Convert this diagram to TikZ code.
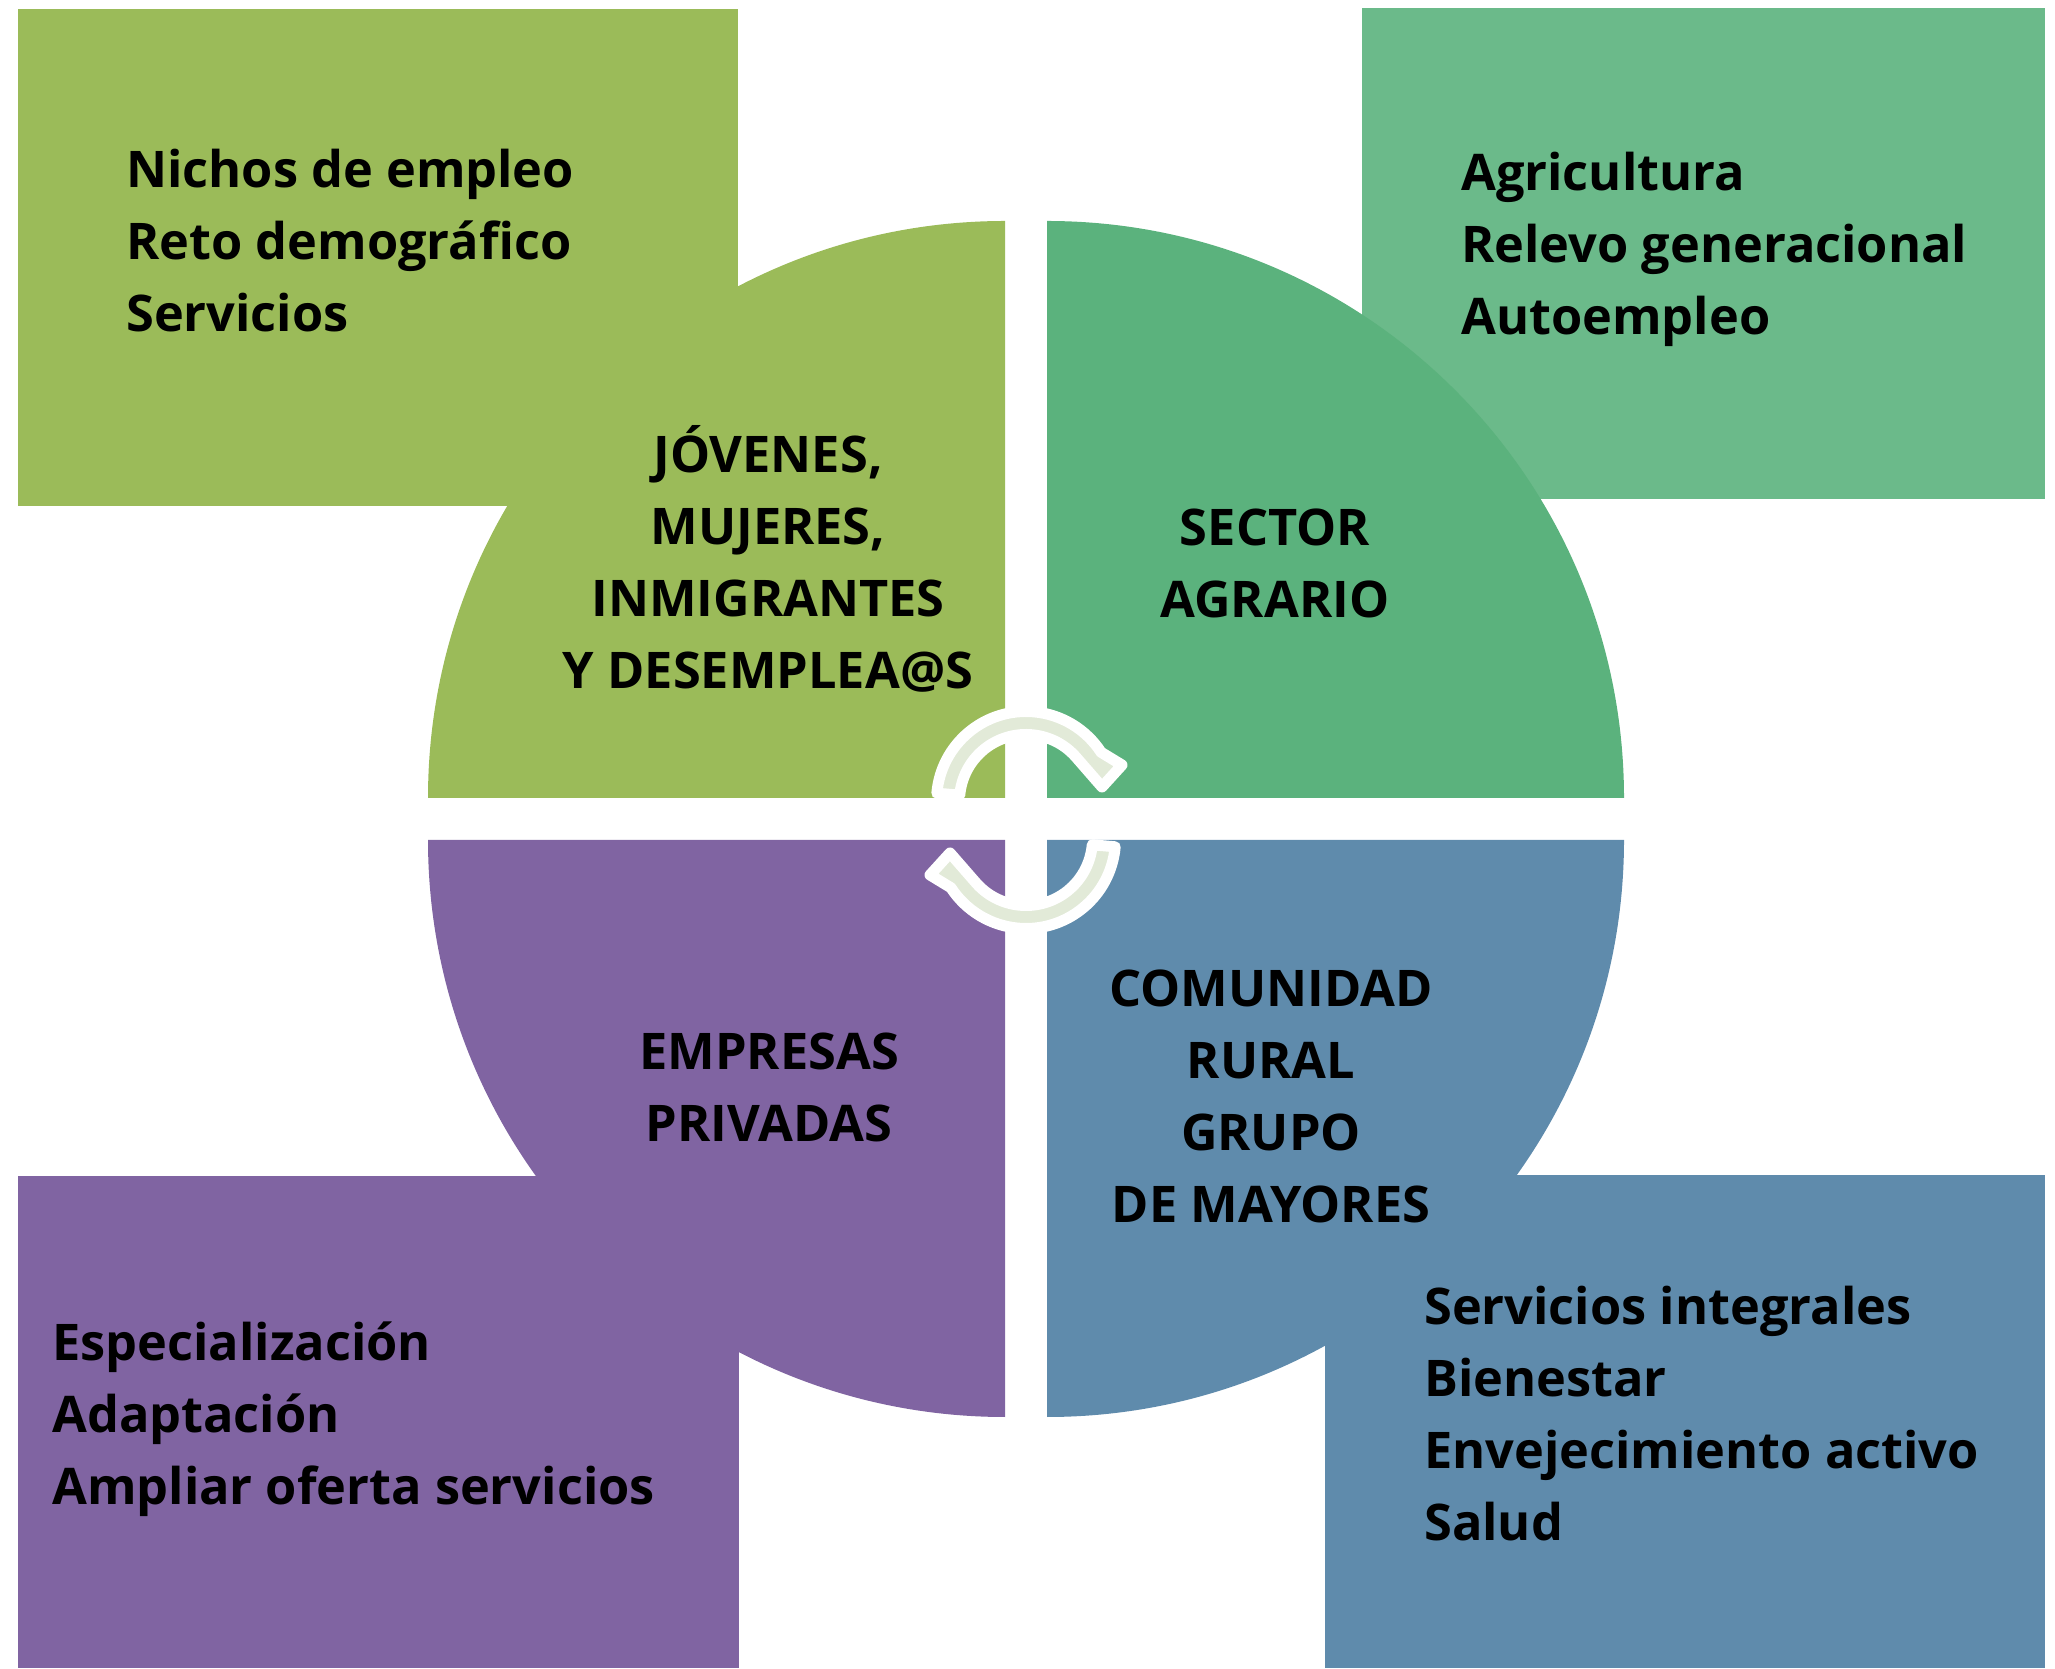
\documentclass[tikz,border=0pt]{standalone}
\usepackage{fontspec}
\setmainfont{Open Sans}
\definecolor{cTL}{HTML}{9BBB59}
\definecolor{cTRr}{HTML}{6BBA8A}
\definecolor{cTR}{HTML}{5BB27D}
\definecolor{cBL}{HTML}{8064A2}
\definecolor{cBR}{HTML}{5F8BAC}
\definecolor{arrowfill}{HTML}{E2EAD8}
\newcommand\stackL[1]{\vtop{\baselineskip=72pt\lineskiplimit=-200pt\halign{##\hfil\cr#1\crcr}}}
\newcommand\stackC[1]{\vtop{\baselineskip=72pt\lineskiplimit=-200pt\halign{\hfil##\hfil\cr#1\crcr}}}
\begin{document}
\begin{tikzpicture}[x=1pt,y=1pt,
  lst/.style={anchor=base west, inner sep=0pt, font=\fontsize{50.5}{72}\selectfont\bfseries},
  ctr/.style={anchor=base, inner sep=0pt, font=\fontsize{50.5}{72}\selectfont\bfseries},
  arr/.style={fill=arrowfill, draw=white, line width=11pt, line join=round}]
\useasboundingbox (0,0) rectangle (2055,1668);
% top-left
\fill[cTL] (18,1162) rectangle (738,1659);
\fill[cTL] (1005,870) -- (428,870) arc[start angle=180,end angle=90,radius=577] -- cycle;
% top-right
\fill[cTRr] (1362,1169) rectangle (2045,1660);
\fill[cTR] (1047,870) -- (1047,1447) arc[start angle=90,end angle=0,radius=577] -- cycle;
% bottom-left
\fill[cBL] (18,0) rectangle (739,492);
\fill[cBL] (1005,828) -- (1005,251) arc[start angle=270,end angle=180,radius=577] -- cycle;
% bottom-right
\fill[cBR] (1325,0) rectangle (2045,493);
\fill[cBR] (1047,828) -- (1624,828) arc[start angle=0,end angle=-90,radius=577] -- cycle;
% circular arrows
\begin{scope}[shift={(1026,867)}]
\draw[arr] (175:89.5) arc[start angle=175,end angle=33,radius=89.5] -- (96,36) -- (76,14) -- (42:66.5) arc[start angle=42,end angle=175,radius=66.5] -- cycle;
\end{scope}
\begin{scope}[shift={(1026,829)},rotate=180]
\draw[arr] (175:89.5) arc[start angle=175,end angle=33,radius=89.5] -- (96,36) -- (76,14) -- (42:66.5) arc[start angle=42,end angle=175,radius=66.5] -- cycle;
\end{scope}
% texts
\node[lst] (tl) at (126,1480) {\stackL{Nichos de empleo\cr Reto demográfico\cr Servicios}};
\node[lst] (tr) at (1461,1477) {\stackL{Agricultura\cr Relevo generacional\cr Autoempleo}};
\node[lst] (bl) at (52,307) {\stackL{Especialización\cr Adaptación\cr Ampliar oferta servicios}};
\node[lst] (br) at (1424,343) {\stackL{Servicios integrales\cr Bienestar\cr Envejecimiento activo\cr Salud}};
\node[ctr] (jov) at (768,1195) {\stackC{JÓVENES,\cr MUJERES,\cr INMIGRANTES\cr Y DESEMPLEA@S}};
\node[ctr] (sec) at (1275,1122) {\stackC{SECTOR\cr AGRARIO}};
\node[ctr] (emp) at (769,598) {\stackC{EMPRESAS\cr PRIVADAS}};
\node[ctr] (com) at (1271,661) {\stackC{COMUNIDAD\cr RURAL\cr GRUPO\cr DE MAYORES}};
\end{tikzpicture}
\end{document}
